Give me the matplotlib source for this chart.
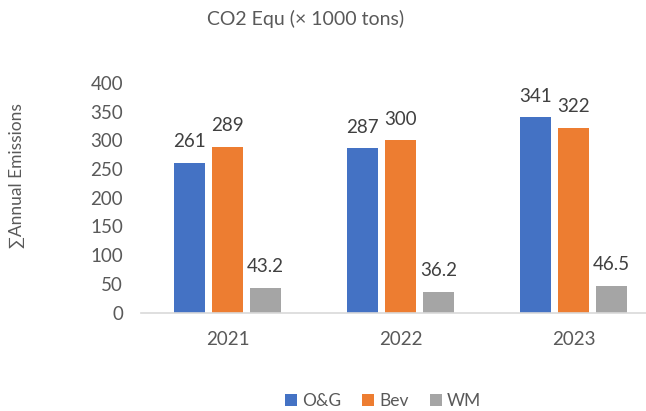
import matplotlib
matplotlib.use("Agg")
from matplotlib import pyplot as plt
import numpy as np

# Chart data
years = ["2021", "2022", "2023"]
series_names = ["O&G", "Bev", "WM"]
og_values = [261, 287, 341]
bev_values = [289, 300, 322]
wm_values = [43.2, 36.2, 46.5]
value_labels = [["261", "287", "341"], ["289", "300", "322"], ["43.2", "36.2", "46.5"]]
colors = ["#4472C4", "#ED7D31", "#A5A5A5"]

plt.rcParams["font.family"] = ["Lato", "DejaVu Sans"]

W, H = 646, 411
fig = plt.figure(figsize=(W / 100, H / 100), dpi=100)
# plot area runs a little past the right edge, as in the reference
ax = fig.add_axes([141 / W, (H - 312.5) / H, 519 / W, 229.5 / H])

x = np.arange(len(years))
bar_w = 0.179
step = 0.22
all_values = [og_values, bev_values, wm_values]
for i, (vals, name, col) in enumerate(zip(all_values, series_names, colors)):
    pos = x + (i - 1) * step
    ax.bar(pos, vals, width=bar_w, color=col, label=name, zorder=2)
    for px, v, txt in zip(pos, vals, value_labels[i]):
        ax.annotate(txt, (px, v), xytext=(0, 15), textcoords="offset points",
                    ha="center", va="center", fontsize=13.5, color="#404040")

ax.set_xlim(-0.5, 2.5)
ax.set_ylim(0, 400)
ax.set_yticks(range(0, 401, 50))
ax.set_xticks(x)
ax.set_xticklabels(years)
ax.tick_params(axis="both", length=0, labelsize=13.5, labelcolor="#595959")
ax.tick_params(axis="y", pad=13)
ax.tick_params(axis="x", pad=13)
for side in ["top", "right", "left"]:
    ax.spines[side].set_visible(False)
ax.spines["bottom"].set_color("#D9D9D9")
ax.spines["bottom"].set_linewidth(1.2)

fig.text(17 / W, 1 - 176 / H, "∑Annual Emissions", rotation=90, ha="center",
         va="center", fontsize=12.5, color="#595959")
fig.text(306 / W, 1 - 19 / H, "CO2 Equ (× 1000 tons)", ha="center", va="center",
         fontsize=14, color="#595959")

fig.legend(loc="center", bbox_to_anchor=(383 / W, 1 - 401 / H), ncol=3, frameon=False,
           fontsize=12.5, handlelength=0.7, handleheight=0.7, handletextpad=0.3,
           columnspacing=1.2, labelcolor="#595959")

fig.savefig("out.png", dpi=100)
